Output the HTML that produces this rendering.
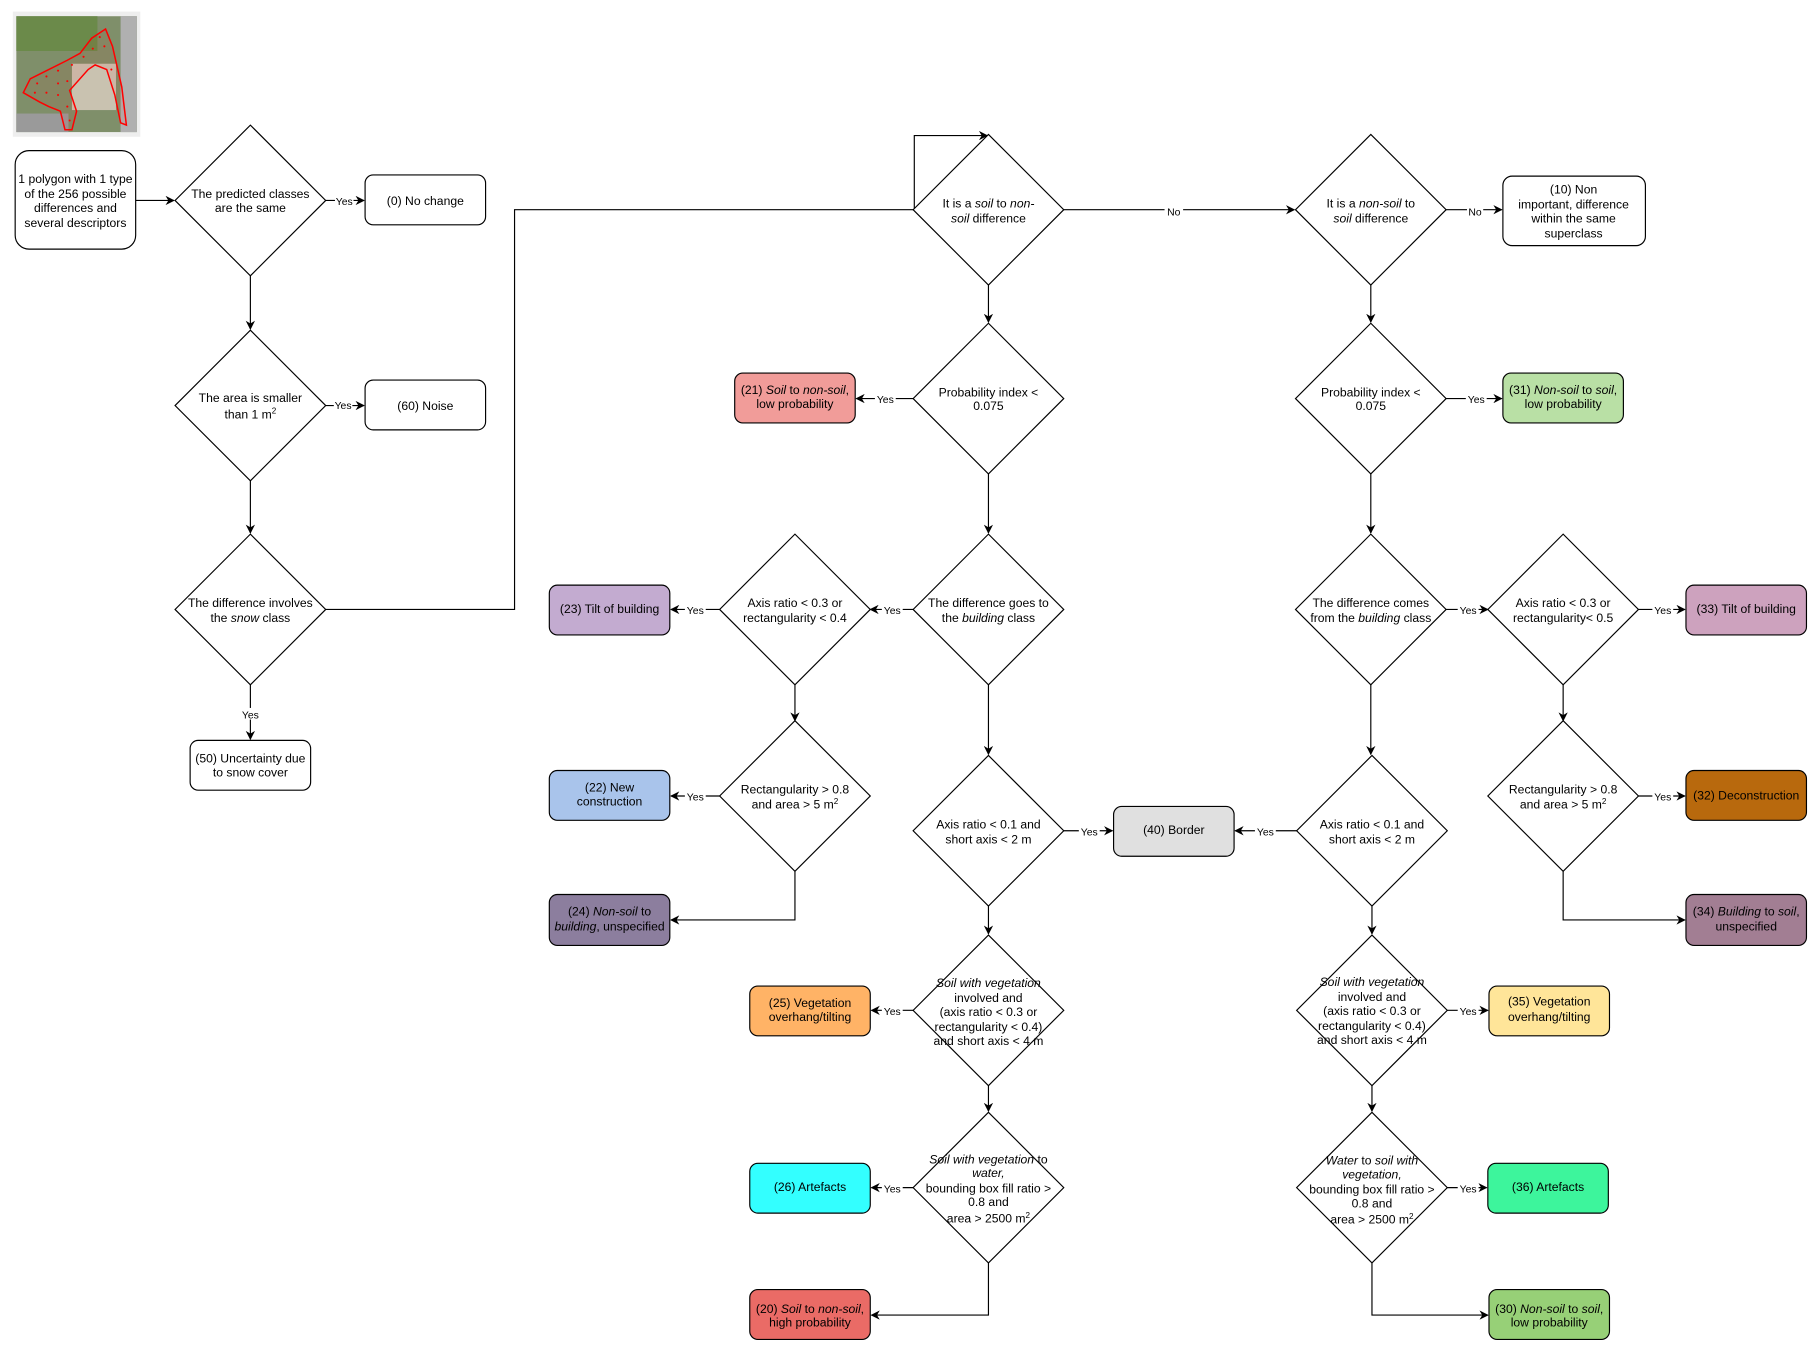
<!DOCTYPE html>
<html><head><meta charset="utf-8"><style>
html,body{margin:0;padding:0;background:#fff;}
svg{display:block;}
text{font-family:"Liberation Sans",Arial,sans-serif;font-size:10.5px;fill:#000;}
.l{font-size:9px;}
</style></head><body>
<svg width="1817" height="1351" viewBox="0 0 1568 1166" xmlns="http://www.w3.org/2000/svg">
<defs>
<marker id="a" viewBox="0 0 10 10" refX="9" refY="5" markerWidth="8" markerHeight="8" markerUnits="userSpaceOnUse" orient="auto"><path d="M0,0 L10,5 L0,10 L3,5 z" fill="#000"/></marker>
</defs>
<g fill="none" stroke="#000" stroke-width="1">
<!-- image -->
<rect x="11" y="10" width="110" height="108" fill="#eee" stroke="none"/>
<rect x="14" y="14" width="104" height="100" fill="#7f8f6a" stroke="none"/>
<rect x="14" y="14" width="70" height="30" fill="#6b8a4a" stroke="none"/>
<rect x="62" y="55" width="38" height="40" fill="#c9c2b0" stroke="none"/>
<rect x="14" y="98" width="45" height="16" fill="#9a9a9a" stroke="none"/>
<rect x="104" y="14" width="14" height="100" fill="#b0b0b0" stroke="none"/>
<path d="M91,25 L97,40 L105,75 L109,108 L104,106 L99,82 L92,60 L82,56 L76,60 L60,78 L66,96 L62,112 L56,112 L52,96 L42,92 L34,88 L20,80 L26,68 L40,61 L58,52 L69,46 L79,33 Z" stroke="#f00" stroke-width="1.3" fill="rgba(255,0,0,0.06)"/>
<g fill="#f00" stroke="none">
<circle cx="86" cy="32" r="0.9"/><circle cx="90" cy="40" r="0.9"/><circle cx="80" cy="42" r="0.9"/><circle cx="72" cy="49" r="0.9"/><circle cx="62" cy="56" r="0.9"/>
<circle cx="50" cy="61" r="0.9"/><circle cx="40" cy="66" r="0.9"/><circle cx="32" cy="72" r="0.9"/><circle cx="30" cy="80" r="0.9"/><circle cx="40" cy="80" r="0.9"/>
<circle cx="50" cy="72" r="0.9"/><circle cx="50" cy="82" r="0.9"/><circle cx="58" cy="70" r="0.9"/><circle cx="58" cy="92" r="0.9"/><circle cx="60" cy="104" r="0.9"/><circle cx="96" cy="60" r="0.9"/>
</g>

<!-- connectors -->
<path d="M117,173 H150" marker-end="url(#a)"/>
<path d="M281,173 H314" marker-end="url(#a)"/>
<path d="M216,238 V284" marker-end="url(#a)"/>
<path d="M281,350 H314" marker-end="url(#a)"/>
<path d="M216,415 V460" marker-end="url(#a)"/>
<path d="M216,591 V638" marker-end="url(#a)"/>
<path d="M281,526 H444 V181 H789 V117 H852" marker-end="url(#a)"/>
<path d="M918,181 H1117" marker-end="url(#a)"/>
<path d="M1248,181 H1296" marker-end="url(#a)"/>
<path d="M853,246 V278" marker-end="url(#a)"/>
<path d="M1183,246 V278" marker-end="url(#a)"/>
<path d="M788,344 H739" marker-end="url(#a)"/>
<path d="M1248,344 H1296" marker-end="url(#a)"/>
<path d="M853,409 V460" marker-end="url(#a)"/>
<path d="M1183,409 V460" marker-end="url(#a)"/>
<path d="M788,526 H751" marker-end="url(#a)"/>
<path d="M621,526 H579" marker-end="url(#a)"/>
<path d="M686,591 V622" marker-end="url(#a)"/>
<path d="M621,687 H579" marker-end="url(#a)"/>
<path d="M686,752 V794 H579" marker-end="url(#a)"/>
<path d="M853,591 V651" marker-end="url(#a)"/>
<path d="M918,717 H960" marker-end="url(#a)"/>
<path d="M1119,717 H1066" marker-end="url(#a)"/>
<path d="M853,782 V806" marker-end="url(#a)"/>
<path d="M788,872 H752" marker-end="url(#a)"/>
<path d="M853,937 V959" marker-end="url(#a)"/>
<path d="M788,1025 H752" marker-end="url(#a)"/>
<path d="M853,1090 V1135 H752" marker-end="url(#a)"/>
<path d="M1248,526 H1284" marker-end="url(#a)"/>
<path d="M1414,526 H1454" marker-end="url(#a)"/>
<path d="M1349,591 V622" marker-end="url(#a)"/>
<path d="M1414,687 H1454" marker-end="url(#a)"/>
<path d="M1349,752 V794 H1454" marker-end="url(#a)"/>
<path d="M1183,591 V651" marker-end="url(#a)"/>
<path d="M1184,782 V806" marker-end="url(#a)"/>
<path d="M1249,872 H1284" marker-end="url(#a)"/>
<path d="M1184,937 V959" marker-end="url(#a)"/>
<path d="M1249,1025 H1283" marker-end="url(#a)"/>
<path d="M1184,1090 V1135 H1284" marker-end="url(#a)"/>

<!-- diamonds -->
<g fill="#fff">
<path d="M216,108 L281,173 L216,238 L151,173 Z"/>
<path d="M216,285 L281,350 L216,415 L151,350 Z"/>
<path d="M216,461 L281,526 L216,591 L151,526 Z"/>
<path d="M853,116 L918,181 L853,246 L788,181 Z"/>
<path d="M1183,116 L1248,181 L1183,246 L1118,181 Z"/>
<path d="M853,279 L918,344 L853,409 L788,344 Z"/>
<path d="M1183,279 L1248,344 L1183,409 L1118,344 Z"/>
<path d="M853,461 L918,526 L853,591 L788,526 Z"/>
<path d="M686,461 L751,526 L686,591 L621,526 Z"/>
<path d="M686,622 L751,687 L686,752 L621,687 Z"/>
<path d="M853,652 L918,717 L853,782 L788,717 Z"/>
<path d="M853,807 L918,872 L853,937 L788,872 Z"/>
<path d="M853,960 L918,1025 L853,1090 L788,1025 Z"/>
<path d="M1183,461 L1248,526 L1183,591 L1118,526 Z"/>
<path d="M1349,461 L1414,526 L1349,591 L1284,526 Z"/>
<path d="M1349,622 L1414,687 L1349,752 L1284,687 Z"/>
<path d="M1184,652 L1249,717 L1184,782 L1119,717 Z"/>
<path d="M1184,807 L1249,872 L1184,937 L1119,872 Z"/>
<path d="M1184,960 L1249,1025 L1184,1090 L1119,1025 Z"/>
</g>

<!-- boxes -->
<rect x="13" y="130" width="104" height="85" rx="12" fill="#fff"/>
<rect x="315" y="151" width="104" height="43" rx="7" fill="#fff"/>
<rect x="315" y="328" width="104" height="43" rx="7" fill="#fff"/>
<rect x="164" y="639" width="104" height="43" rx="7" fill="#fff"/>
<rect x="1297" y="152" width="123" height="60" rx="8" fill="#fff"/>
<rect x="634" y="322" width="104" height="43" rx="7" fill="#f19c99"/>
<rect x="1297" y="322" width="104" height="43" rx="7" fill="#b9e0a5"/>
<rect x="474" y="505" width="104" height="43" rx="7" fill="#c3abd0"/>
<rect x="474" y="665" width="104" height="43" rx="7" fill="#a9c4eb"/>
<rect x="474" y="772" width="104" height="44" rx="7" fill="#8c7e9e"/>
<rect x="961" y="696" width="104" height="43" rx="7" fill="#e0e0e0"/>
<rect x="647" y="851" width="104" height="43" rx="7" fill="#ffb366"/>
<rect x="647" y="1004" width="104" height="43" rx="7" fill="#33ffff"/>
<rect x="647" y="1113" width="104" height="43" rx="7" fill="#ea6b66"/>
<rect x="1455" y="505" width="104" height="43" rx="7" fill="#cda2be"/>
<rect x="1455" y="665" width="104" height="43" rx="7" fill="#b8690d"/>
<rect x="1455" y="772" width="104" height="44" rx="7" fill="#a27e93"/>
<rect x="1285" y="851" width="104" height="43" rx="7" fill="#ffe599"/>
<rect x="1284" y="1004" width="104" height="43" rx="7" fill="#3df59c"/>
<rect x="1285" y="1113" width="104" height="43" rx="7" fill="#97d077"/>
</g>

<!-- edge labels -->
<g class="l" text-anchor="middle">
<rect x="289" y="168" width="16" height="10" fill="#fff"/><text class="l" x="297" y="177">Yes</text>
<rect x="288" y="345" width="16" height="10" fill="#fff"/><text class="l" x="296" y="353">Yes</text>
<rect x="207" y="611" width="18" height="10" fill="#fff"/><text class="l" x="216" y="620">Yes</text>
<rect x="1005" y="176" width="16" height="10" fill="#fff"/><text class="l" x="1013" y="186">No</text>
<rect x="1266" y="176" width="14" height="10" fill="#fff"/><text class="l" x="1273" y="186">No</text>
<rect x="755" y="339" width="18" height="10" fill="#fff"/><text class="l" x="764" y="348">Yes</text>
<rect x="1265" y="339" width="18" height="10" fill="#fff"/><text class="l" x="1274" y="348">Yes</text>
<rect x="761" y="521" width="18" height="10" fill="#fff"/><text class="l" x="770" y="530">Yes</text>
<rect x="591" y="521" width="18" height="10" fill="#fff"/><text class="l" x="600" y="530">Yes</text>
<rect x="591" y="682" width="18" height="10" fill="#fff"/><text class="l" x="600" y="691">Yes</text>
<rect x="931" y="712" width="18" height="10" fill="#fff"/><text class="l" x="940" y="721">Yes</text>
<rect x="1083" y="712" width="18" height="10" fill="#fff"/><text class="l" x="1092" y="721">Yes</text>
<rect x="761" y="867" width="18" height="10" fill="#fff"/><text class="l" x="770" y="876">Yes</text>
<rect x="761" y="1020" width="18" height="10" fill="#fff"/><text class="l" x="770" y="1029">Yes</text>
<rect x="1258" y="521" width="18" height="10" fill="#fff"/><text class="l" x="1267" y="530">Yes</text>
<rect x="1426" y="521" width="18" height="10" fill="#fff"/><text class="l" x="1435" y="530">Yes</text>
<rect x="1426" y="682" width="18" height="10" fill="#fff"/><text class="l" x="1435" y="691">Yes</text>
<rect x="1258" y="867" width="18" height="10" fill="#fff"/><text class="l" x="1267" y="876">Yes</text>
<rect x="1258" y="1020" width="18" height="10" fill="#fff"/><text class="l" x="1267" y="1029">Yes</text>
</g>

<!-- node text -->
<g text-anchor="middle">
<text x="65" y="158">1 polygon with 1 type</text>
<text x="65" y="171">of the 256 possible</text>
<text x="65" y="183">differences and</text>
<text x="65" y="196">several descriptors</text>
<text x="216" y="171">The predicted classes</text>
<text x="216" y="183">are the same</text>
<text x="367" y="177">(0) No change</text>
<text x="216" y="347">The area is smaller</text>
<text x="216" y="361">than 1 m<tspan dy="-4" font-size="7">2</tspan></text>
<text x="367" y="354">(60) Noise</text>
<text x="216" y="524">The difference involves</text>
<text x="216" y="537">the <tspan font-style="italic">snow</tspan> class</text>
<text x="216" y="658">(50) Uncertainty due</text>
<text x="216" y="670">to snow cover</text>
<text x="853" y="179">It is a <tspan font-style="italic">soil</tspan> to <tspan font-style="italic">non-</tspan></text>
<text x="853" y="192"><tspan font-style="italic">soil</tspan> difference</text>
<text x="1183" y="179">It is a <tspan font-style="italic">non-soil</tspan> to</text>
<text x="1183" y="192"><tspan font-style="italic">soil</tspan> difference</text>
<text x="1358" y="167">(10) Non</text>
<text x="1358" y="180">important, difference</text>
<text x="1358" y="192">within the same</text>
<text x="1358" y="205">superclass</text>
<text x="853" y="342">Probability index &lt;</text>
<text x="853" y="354">0.075</text>
<text x="1183" y="342">Probability index &lt;</text>
<text x="1183" y="354">0.075</text>
<text x="686" y="340">(21) <tspan font-style="italic">Soil</tspan> to <tspan font-style="italic">non-soil</tspan>,</text>
<text x="686" y="352">low probability</text>
<text x="1349" y="340">(31) <tspan font-style="italic">Non-soil</tspan> to <tspan font-style="italic">soil</tspan>,</text>
<text x="1349" y="352">low probability</text>
<text x="853" y="524">The difference goes to</text>
<text x="853" y="537">the <tspan font-style="italic">building</tspan> class</text>
<text x="686" y="524">Axis ratio &lt; 0.3 or</text>
<text x="686" y="537">rectangularity &lt; 0.4</text>
<text x="526" y="529">(23) Tilt of building</text>
<text x="686" y="685">Rectangularity &gt; 0.8</text>
<text x="686" y="698">and area &gt; 5 m<tspan dy="-4" font-size="7">2</tspan></text>
<text x="526" y="683">(22) New</text>
<text x="526" y="695">construction</text>
<text x="526" y="790">(24) <tspan font-style="italic">Non-soil</tspan> to</text>
<text x="526" y="803"><tspan font-style="italic">building</tspan>, unspecified</text>
<text x="853" y="715">Axis ratio &lt; 0.1 and</text>
<text x="853" y="728">short axis &lt; 2 m</text>
<text x="1013" y="720">(40) Border</text>
<text x="1184" y="715">Axis ratio &lt; 0.1 and</text>
<text x="1184" y="728">short axis &lt; 2 m</text>
<text x="853" y="852" font-style="italic">Soil with vegetation</text>
<text x="853" y="865">involved and</text>
<text x="853" y="877">(axis ratio &lt; 0.3 or</text>
<text x="853" y="890">rectangularity &lt; 0.4)</text>
<text x="853" y="902">and short axis &lt; 4 m</text>
<text x="699" y="869">(25) Vegetation</text>
<text x="699" y="881">overhang/tilting</text>
<text x="853" y="1004"><tspan font-style="italic">Soil with vegetation</tspan> to</text>
<text x="853" y="1016" font-style="italic">water,</text>
<text x="853" y="1029">bounding box fill ratio &gt;</text>
<text x="853" y="1041">0.8 and</text>
<text x="853" y="1055">area &gt; 2500 m<tspan dy="-4" font-size="7">2</tspan></text>
<text x="699" y="1028">(26) Artefacts</text>
<text x="699" y="1133">(20) <tspan font-style="italic">Soil</tspan> to <tspan font-style="italic">non-soil</tspan>,</text>
<text x="699" y="1145">high probability</text>
<text x="1183" y="524">The difference comes</text>
<text x="1183" y="537">from the <tspan font-style="italic">building</tspan> class</text>
<text x="1349" y="524">Axis ratio &lt; 0.3 or</text>
<text x="1349" y="537">rectangularity&lt; 0.5</text>
<text x="1507" y="529">(33) Tilt of building</text>
<text x="1349" y="685">Rectangularity &gt; 0.8</text>
<text x="1349" y="698">and area &gt; 5 m<tspan dy="-4" font-size="7">2</tspan></text>
<text x="1507" y="690">(32) Deconstruction</text>
<text x="1507" y="790">(34) <tspan font-style="italic">Building</tspan> to <tspan font-style="italic">soil</tspan>,</text>
<text x="1507" y="803">unspecified</text>
<text x="1184" y="851" font-style="italic">Soil with vegetation</text>
<text x="1184" y="864">involved and</text>
<text x="1184" y="876">(axis ratio &lt; 0.3 or</text>
<text x="1184" y="889">rectangularity &lt; 0.4)</text>
<text x="1184" y="901">and short axis &lt; 4 m</text>
<text x="1337" y="868">(35) Vegetation</text>
<text x="1337" y="881">overhang/tilting</text>
<text x="1184" y="1005"><tspan font-style="italic">Water</tspan> to <tspan font-style="italic">soil with</tspan></text>
<text x="1184" y="1017" font-style="italic">vegetation,</text>
<text x="1184" y="1030">bounding box fill ratio &gt;</text>
<text x="1184" y="1042">0.8 and</text>
<text x="1184" y="1056">area &gt; 2500 m<tspan dy="-4" font-size="7">2</tspan></text>
<text x="1336" y="1028">(36) Artefacts</text>
<text x="1337" y="1133">(30) <tspan font-style="italic">Non-soil</tspan> to <tspan font-style="italic">soil</tspan>,</text>
<text x="1337" y="1145">low probability</text>
</g>
</svg>
</body></html>
